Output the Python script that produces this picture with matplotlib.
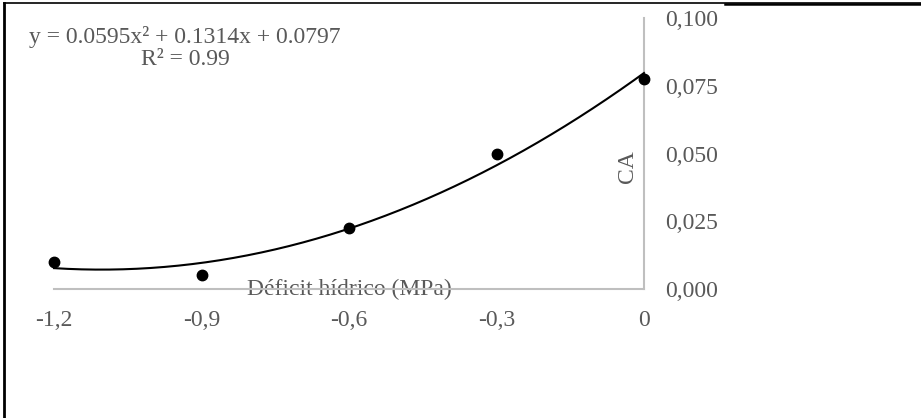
import numpy as np
import matplotlib
matplotlib.use("Agg")
import matplotlib.pyplot as plt
from matplotlib.lines import Line2D

# Data
deficit = [-1.2, -0.9, -0.6, -0.3, 0.0]
ca = [0.010, 0.005, 0.0225, 0.050, 0.0775]
fit_coefs = [0.0595, 0.1314, 0.0797]  # quadratic trendline (a, b, c)
x_ticks = [-1.2, -0.9, -0.6, -0.3, 0.0]
x_ticklabels = ["-1,2", "-0,9", "-0,6", "-0,3", "0"]
y_ticks = [0.000, 0.025, 0.050, 0.075, 0.100]
y_ticklabels = ["0,000", "0,025", "0,050", "0,075", "0,100"]
eq_text = "y = 0.0595x² + 0.1314x + 0.0797\nR² = 0.99"
x_label = "Déficit hídrico (MPa)"
y_label = "CA"

plt.rcParams['font.family'] = ['Liberation Serif', 'DejaVu Serif']
W, H = 921, 418
fig = plt.figure(figsize=(W / 100, H / 100), dpi=100)
ax = fig.add_axes([54 / W, (H - 289) / H, (644 - 54) / W, (289 - 18) / H])

gray = "#595959"
axis_gray = "#BFBFBF"
fs = 17

xs = np.linspace(-1.2, 0, 300)
ax.plot(xs, np.polyval(fit_coefs, xs), color="black", lw=1.5, zorder=3, clip_on=False)
ax.plot(deficit, ca, 'o', color="black", ms=7.5, zorder=4, clip_on=False)

ax.set_xlim(-1.2, 0)
ax.set_ylim(0, 0.1)
for s in ["top", "left"]:
    ax.spines[s].set_visible(False)
for s in ["bottom", "right"]:
    ax.spines[s].set_color(axis_gray)
    ax.spines[s].set_linewidth(1.5)

ax.set_xticks(x_ticks)
ax.set_xticklabels(x_ticklabels)
ax.set_yticks(y_ticks)
ax.set_yticklabels(y_ticklabels)
ax.yaxis.tick_right()
ax.tick_params(axis="x", length=0, pad=15, labelsize=fs, labelcolor=gray)
ax.tick_params(axis="y", length=0, pad=15, labelsize=fs, labelcolor=gray)
for lab in ax.get_yticklabels():
    lab.set_horizontalalignment("left")

ax.text(-0.6, 0.0, x_label, ha="center", va="center", fontsize=fs, color=gray, zorder=1)
fig.text(627 / W, 1 - 167 / H, y_label, rotation=90, ha="center", va="center", fontsize=fs, color=gray)

fig.text(185 / W, 1 - 48 / H, eq_text, ha="center", va="center", fontsize=fs,
         color=gray, multialignment="center", linespacing=1.1)

# outer border fragments
fig.add_artist(Line2D([4 / W, 4 / W], [0, 1 - 3 / H], transform=fig.transFigure, color="black", lw=2))
fig.add_artist(Line2D([4 / W, 1], [1 - 3 / H, 1 - 3 / H], transform=fig.transFigure, color="black", lw=1.2))
fig.add_artist(Line2D([725 / W, 1], [1 - 4 / H, 1 - 4 / H], transform=fig.transFigure, color="black", lw=1.8))

fig.savefig("out.png", dpi=100)
